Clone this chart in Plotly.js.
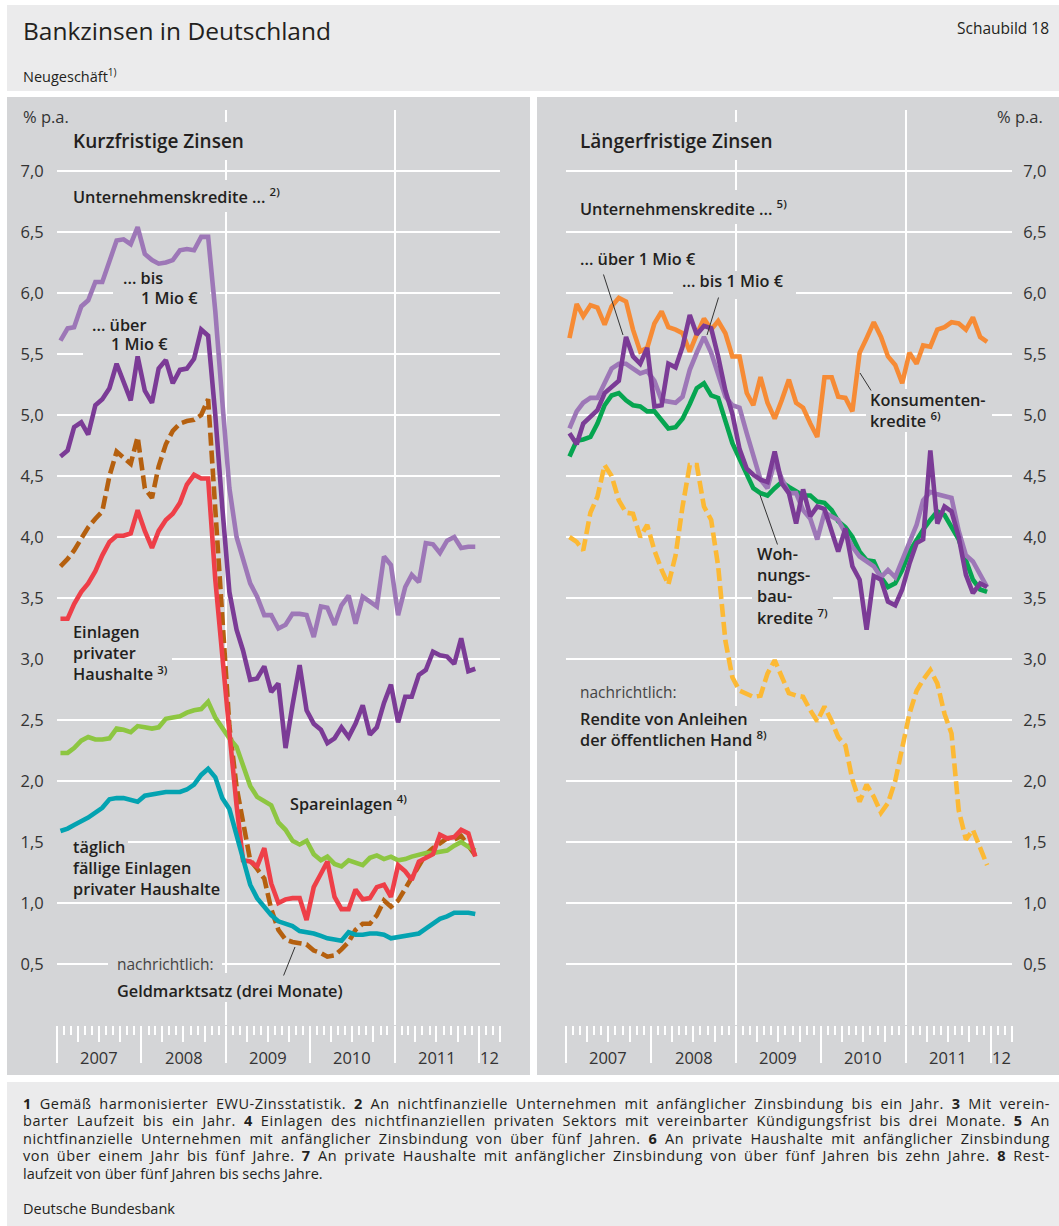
<!DOCTYPE html>
<html><head><meta charset="utf-8">
<script src="https://cdn.plot.ly/plotly-3.0.1.min.js"></script>
<style>html,body{margin:0;padding:0;background:#fff;} #chart{width:1059px;height:1226px;}</style>
</head><body><div id="chart"></div>
<script>
const W = 1059, H = 1226;

// monthly observation dates (Jan 2007 - Dec 2011), plotted mid-month
const months = [];
for (let y = 2007; y <= 2011; y++) for (let m = 1; m <= 12; m++) months.push(y + '-' + String(m).padStart(2, '0') + '-16');

const yTickVals = [0.5, 1, 1.5, 2, 2.5, 3, 3.5, 4, 4.5, 5, 5.5, 6, 6.5, 7];
const yTickText = ['0,5', '1,0', '1,5', '2,0', '2,5', '3,0', '3,5', '4,0', '4,5', '5,0', '5,5', '6,0', '6,5', '7,0'];
const yearLabels = ['2007', '2008', '2009', '2010', '2011', '12'];
const yearLabelDates = ['2007-07-02', '2008-07-02', '2009-07-02', '2010-07-02', '2011-07-02', '2012-02-16'];
const gridDates = ['2009-01-01', '2011-01-01'];
const xRange = ['2007-01-01', '2012-04-01'];

// ---- Kurzfristige Zinsen (left) ----
const kurzBis = [5.61,5.71,5.72,5.89,5.94,6.09,6.09,6.27,6.43,6.44,
  6.40,6.54,6.32,6.27,6.24,6.25,6.27,6.35,6.36,6.35,
  6.46,6.46,5.85,5.12,4.40,4.00,3.81,3.62,3.51,3.36,
  3.36,3.25,3.28,3.37,3.37,3.36,3.18,3.43,3.42,3.28,
  3.44,3.52,3.29,3.51,3.47,3.43,3.84,3.77,3.36,3.59,
  3.69,3.63,3.95,3.94,3.87,3.97,4.00,3.91,3.92,3.92];
const kurzUeber = [4.66,4.71,4.90,4.94,4.84,5.08,5.13,5.22,5.42,5.26,
  5.12,5.48,5.20,5.10,5.38,5.45,5.26,5.37,5.38,5.46,
  5.70,5.65,5.00,4.25,3.55,3.24,3.07,2.83,2.84,2.94,
  2.73,2.80,2.27,2.62,2.95,2.58,2.47,2.42,2.31,2.35,
  2.44,2.36,2.47,2.62,2.38,2.44,2.64,2.79,2.48,2.69,
  2.69,2.87,2.91,3.06,3.03,3.02,2.96,3.17,2.90,2.92];
const geldmarkt = [3.76,3.82,3.89,3.98,4.08,4.15,4.21,4.50,4.70,4.65,
  4.60,4.82,4.40,4.32,4.58,4.76,4.87,4.93,4.95,4.96,
  5.00,5.13,4.20,3.25,2.45,1.95,1.64,1.35,1.28,1.20,
  0.95,0.78,0.70,0.68,0.67,0.66,0.61,0.59,0.56,0.57,
  0.62,0.68,0.78,0.83,0.83,0.90,1.02,0.97,1.02,1.12,
  1.22,1.32,1.40,1.45,1.49,1.53,1.52,1.55,1.47,1.39];
const einlagen = [3.33,3.33,3.45,3.55,3.62,3.72,3.85,3.96,4.01,4.01,
  4.03,4.22,4.05,3.91,4.05,4.14,4.19,4.28,4.43,4.51,
  4.48,4.48,3.65,3.00,2.40,1.80,1.35,1.34,1.30,1.45,
  1.16,1.00,1.03,1.04,1.04,0.86,1.13,1.24,1.34,1.05,
  0.95,0.95,1.11,1.03,1.04,1.13,1.15,1.05,1.31,1.26,
  1.19,1.34,1.37,1.40,1.56,1.53,1.54,1.60,1.57,1.38];
const spareinlagen = [2.23,2.23,2.27,2.33,2.36,2.34,2.34,2.35,2.43,2.42,
  2.40,2.45,2.44,2.43,2.44,2.51,2.52,2.53,2.56,2.58,
  2.59,2.65,2.52,2.43,2.35,2.28,2.12,1.96,1.87,1.83,
  1.80,1.66,1.60,1.51,1.48,1.51,1.40,1.35,1.38,1.32,
  1.30,1.35,1.33,1.31,1.37,1.39,1.36,1.38,1.35,1.36,
  1.38,1.40,1.41,1.41,1.42,1.43,1.47,1.50,1.46,1.43];
const taeglich = [1.59,1.61,1.64,1.67,1.70,1.74,1.78,1.85,1.86,1.86,
  1.84,1.83,1.88,1.89,1.90,1.91,1.91,1.91,1.93,1.97,
  2.05,2.10,2.03,1.86,1.77,1.55,1.35,1.15,1.04,0.97,
  0.90,0.85,0.83,0.81,0.77,0.76,0.75,0.73,0.71,0.70,
  0.69,0.76,0.74,0.74,0.75,0.75,0.74,0.71,0.72,0.73,
  0.74,0.75,0.79,0.83,0.87,0.89,0.92,0.92,0.92,0.91];

// ---- Längerfristige Zinsen (right) ----
const langUeber = [4.85,4.76,4.93,4.99,5.04,5.18,5.23,5.28,5.64,5.48,
  5.42,5.55,5.07,5.08,5.42,5.39,5.56,5.82,5.66,5.73,
  5.71,5.48,5.20,5.01,4.72,4.56,4.51,4.47,4.45,4.70,
  4.44,4.36,4.11,4.39,4.17,4.25,4.23,4.06,3.88,4.07,
  3.76,3.65,3.24,3.68,3.65,3.47,3.44,3.57,3.78,3.95,
  3.98,4.71,4.11,4.25,4.21,4.00,3.69,3.54,3.62,3.59];
const langBis = [4.89,5.03,5.10,5.14,5.14,5.26,5.38,5.42,5.42,5.38,
  5.34,5.36,5.28,5.12,5.11,5.10,5.15,5.37,5.51,5.64,
  5.51,5.34,5.15,5.08,5.06,4.85,4.66,4.47,4.40,4.62,
  4.48,4.36,4.36,4.22,4.15,3.98,4.20,4.17,4.14,4.03,
  3.92,3.84,3.80,3.76,3.67,3.73,3.67,3.81,3.96,4.10,
  4.30,4.37,4.35,4.33,4.32,4.05,3.85,3.80,3.70,3.59];
const konsum = [5.63,5.91,5.81,5.90,5.88,5.74,5.89,5.96,5.93,5.70,
  5.52,5.55,5.75,5.85,5.72,5.70,5.67,5.52,5.66,5.79,
  5.70,5.77,5.67,5.48,5.48,5.18,5.08,5.31,5.10,4.97,
  5.12,5.29,5.10,5.06,4.93,4.82,5.31,5.31,5.15,5.14,
  5.03,5.51,5.63,5.76,5.64,5.48,5.41,5.26,5.51,5.42,
  5.57,5.56,5.70,5.72,5.76,5.75,5.70,5.80,5.64,5.60];
const wohnungsbau = [4.66,4.79,4.80,4.82,4.93,5.08,5.16,5.18,5.12,5.08,
  5.07,5.03,5.03,4.96,4.89,4.90,4.97,5.09,5.22,5.26,
  5.16,5.14,4.96,4.77,4.64,4.52,4.40,4.36,4.34,4.40,
  4.45,4.41,4.37,4.34,4.34,4.29,4.28,4.22,4.13,4.08,
  4.00,3.88,3.81,3.80,3.67,3.59,3.62,3.73,3.88,3.98,
  4.06,4.14,4.21,4.18,4.08,3.98,3.81,3.65,3.57,3.55];
const rendite = [4.00,3.96,3.89,4.20,4.33,4.59,4.50,4.30,4.20,4.19,
  4.00,4.10,3.89,3.73,3.61,3.85,4.25,4.59,4.59,4.25,
  4.14,3.76,3.15,2.85,2.74,2.71,2.69,2.70,2.88,2.99,
  2.86,2.72,2.70,2.69,2.58,2.49,2.61,2.49,2.36,2.29,
  2.01,1.83,1.97,1.87,1.74,1.82,2.00,2.25,2.55,2.74,
  2.83,2.91,2.80,2.55,2.39,1.76,1.52,1.60,1.45,1.31];

const C = {
  lila: '#9d77b7', violett: '#7b3b96', braun: '#b5600f', rot: '#ee3f48',
  hellgruen: '#8dc641', tuerkis: '#03a3b1', orange: '#f68b35', gruen: '#06a550', gelb: '#fcb934',
  panel: '#d4d5d7', frame: '#ebebec', text: '#231f20'
};
const F = '"Open Sans", "Noto Sans", sans-serif';

function line(y, color, xa, ya, dash) {
  return { x: months, y: y, xaxis: xa, yaxis: ya, type: 'scatter', mode: 'lines',
    line: { color: color, width: 4.6, dash: dash || 'solid' }, hoverinfo: 'skip', showlegend: false };
}
// empty helper traces so the overlaid ruler axes are drawn
function holder(xa, ya) {
  return { x: [months[0]], y: [null], xaxis: xa, yaxis: ya, type: 'scatter', mode: 'lines', hoverinfo: 'skip', showlegend: false };
}
const DASH = '13px,5px';
const traces = [
  holder('x2', 'y'), holder('x3', 'y'), holder('x4', 'y'),
  holder('x6', 'y2'), holder('x7', 'y2'), holder('x8', 'y2'),
  line(geldmarkt, C.braun, 'x', 'y', DASH),
  line(spareinlagen, C.hellgruen, 'x', 'y'),
  line(einlagen, C.rot, 'x', 'y'),
  line(taeglich, C.tuerkis, 'x', 'y'),
  line(kurzBis, C.lila, 'x', 'y'),
  line(kurzUeber, C.violett, 'x', 'y'),
  line(rendite, C.gelb, 'x5', 'y2', DASH),
  line(konsum, C.orange, 'x5', 'y2'),
  line(wohnungsbau, C.gruen, 'x5', 'y2'),
  line(langBis, C.lila, 'x5', 'y2'),
  line(langUeber, C.violett, 'x5', 'y2')
];

const domL = [57 / W, 500 / W], domR = [566 / W, 1012 / W];
const yDom = [1 - 1025 / H, 1 - 110 / H];

function gridAxis(domain, anchor) {
  return { type: 'date', range: xRange, domain: domain, anchor: anchor, tickmode: 'array', tickvals: gridDates,
    ticks: '', showticklabels: false, showgrid: true, gridcolor: '#ffffff', gridwidth: 2,
    zeroline: false, showline: false, fixedrange: true };
}
function tickAxis(domain, anchor, over, dtick, len) {
  return { type: 'date', range: xRange, domain: domain, anchor: anchor, overlaying: over,
    tickmode: 'linear', tick0: '2007-01-01', dtick: dtick, ticks: 'outside', ticklen: len, tickwidth: 2,
    tickcolor: '#ffffff', showticklabels: false, showgrid: false, zeroline: false, showline: false, fixedrange: true };
}
function yAxis(anchor, side, len) {
  return { domain: yDom, anchor: anchor, side: side, range: [0, 7.5], tickmode: 'array', tickvals: yTickVals,
    ticktext: yTickText, ticks: 'outside', ticklen: len, tickcolor: 'rgba(0,0,0,0)', showgrid: true,
    gridcolor: '#ffffff', gridwidth: 2, zeroline: false, showline: false, fixedrange: true,
    tickfont: { family: F, size: 16.5, color: '#333333' } };
}

function P(x) { return x / W; }
function Q(y) { return 1 - y / H; }
function txt(text, x, y, o) {
  o = o || {};
  const xa = o.xa || 'left';
  return { text: text, xref: 'paper', yref: 'paper', x: P(x), y: Q(y), xanchor: xa, yanchor: 'middle',
    showarrow: false, align: o.align || 'left',
    font: { family: F, size: o.size || 15, color: o.color || C.text, weight: o.weight || 400 },
    borderpad: 0, name: o.name || '' };
}
function pointer(hx, hy, ax, ay) {
  return { text: '', xref: 'paper', yref: 'paper', x: P(hx), y: Q(hy), ax: ax, ay: ay, showarrow: true,
    arrowhead: 0, arrowwidth: 1, arrowcolor: '#333333', standoff: 0, startstandoff: 0 };
}
// panel-coloured patches that interrupt the white grid behind the labels
function mask(x0, y0, x1, y1) {
  return { type: 'rect', xref: 'paper', yref: 'paper', x0: P(x0), x1: P(x1), y0: Q(y1), y1: Q(y0),
    fillcolor: C.panel, line: { width: 0 }, layer: 'above' };
}

const B = 600;
const S = 16.3;
const lab = { size: S, weight: B };
const footLines = [
  '<b>1</b> Gemäß harmonisierter EWU-Zinsstatistik. <b>2</b> An nichtfinanzielle Unternehmen mit anfänglicher Zinsbindung bis ein Jahr. <b>3</b> Mit verein-',
  'barter Laufzeit bis ein Jahr. <b>4</b> Einlagen des nichtfinanziellen privaten Sektors mit vereinbarter Kündigungsfrist bis drei Monate. <b>5</b> An',
  'nichtfinanzielle Unternehmen mit anfänglicher Zinsbindung von über fünf Jahren. <b>6</b> An private Haushalte mit anfänglicher Zinsbindung',
  'von über einem Jahr bis fünf Jahre. <b>7</b> An private Haushalte mit anfänglicher Zinsbindung von über fünf Jahren bis zehn Jahre. <b>8</b> Rest-',
  'laufzeit von über fünf Jahren bis sechs Jahre.'
];
const footY = [1103, 1120.5, 1138, 1155.5, 1173];

const annotations = [
  // header
  txt('Bankzinsen in Deutschland', 22, 31, { size: 24.5 }),
  txt('Schaubild 18', 1050, 28, { size: 15.5, xa: 'right' }),
  txt('Neugeschäft<sup>1)</sup>', 22, 76, { size: 14.5 }),
  // left panel
  txt('% p.a.', 22, 117, { size: 16.5, color: '#333333' }),
  txt('Kurzfristige Zinsen', 72, 141, { size: 19, weight: B }),
  txt('Unternehmenskredite ... <sup>2)</sup>', 72, 196, lab),
  txt('... bis', 122, 278, lab),
  txt('1 Mio €', 140, 298, lab),
  txt('... über', 91, 325, lab),
  txt('1 Mio €', 110, 344, lab),
  txt('Einlagen<br>privater<br>Haushalte <sup>3)</sup>', 72, 653, lab),
  txt('Spareinlagen <sup>4)</sup>', 289, 803, lab),
  txt('täglich<br>fällige Einlagen<br>privater Haushalte', 72, 868, lab),
  txt('nachrichtlich:', 116, 964, { size: 15.5, color: '#444444' }),
  txt('Geldmarktsatz (drei Monate)', 116, 991, lab),
  pointer(295, 947, -12, 30),
  // right panel
  txt('% p.a.', 1044, 117, { size: 16.5, color: '#333333', xa: 'right' }),
  txt('Längerfristige Zinsen', 579, 141, { size: 19, weight: B }),
  txt('Unternehmenskredite ... <sup>5)</sup>', 579, 208, lab),
  txt('... über 1 Mio €', 579, 259, lab),
  txt('... bis 1 Mio €', 681, 281, lab),
  pointer(623, 335, -20, -62),
  pointer(707, 335, 12, -39),
  txt('Konsumenten-<br>kredite <sup>6)</sup>', 869, 411, lab),
  pointer(860, 373, 12, 19),
  txt('Woh-<br>nungs-<br>bau-<br>kredite <sup>7)</sup>', 756, 586, lab),
  pointer(760, 495, 18, 51),
  txt('nachrichtlich:', 579, 692, { size: 15.5, color: '#444444' }),
  txt('Rendite von Anleihen<br>der öffentlichen Hand <sup>8)</sup>', 579, 730, lab),
  txt('Deutsche Bundesbank', 22, 1208, { size: 14.5 })
];
footLines.forEach(function (t, k) {
  annotations.push(txt(t, 22, footY[k], { size: 14.5, name: k < 4 ? 'justify' : 'plain' }));
});
// year labels under both rulers
yearLabels.forEach(function (l, k) {
  ['x', 'x5'].forEach(function (xa) {
    annotations.push({ text: l, xref: xa, yref: 'paper', x: yearLabelDates[k], y: Q(1057), xanchor: 'center',
      yanchor: 'middle', showarrow: false, font: { family: F, size: 16.5, color: '#333333' } });
  });
});

const shapes = [
  { type: 'rect', xref: 'paper', yref: 'paper', x0: P(7), x1: 1, y0: Q(91), y1: Q(5), fillcolor: C.frame, line: { width: 0 }, layer: 'below' },
  { type: 'rect', xref: 'paper', yref: 'paper', x0: P(7), x1: P(530), y0: Q(1075), y1: Q(97), fillcolor: C.panel, line: { width: 0 }, layer: 'below' },
  { type: 'rect', xref: 'paper', yref: 'paper', x0: P(537), x1: 1, y0: Q(1075), y1: Q(97), fillcolor: C.panel, line: { width: 0 }, layer: 'below' },
  { type: 'rect', xref: 'paper', yref: 'paper', x0: P(7), x1: 1, y0: 0, y1: Q(1082), fillcolor: C.frame, line: { width: 0 }, layer: 'below' },
  // grid interruptions behind labels (placed where no data line passes)
  mask(219, 122, 231, 160), mask(219, 180, 231, 212),
  mask(113, 287, 210, 299), mask(83, 352.8, 178, 355.2),
  mask(57, 653, 172, 665), mask(57, 836, 128, 848),
  mask(108, 958, 222, 970), mask(219, 973, 231, 1002), mask(386, 790, 400, 816),
  mask(730, 122, 742, 160), mask(730, 190, 742, 224),
  mask(673, 271, 796, 299), mask(866, 389, 992, 432),
  mask(752, 592, 833, 604), mask(566, 706, 760, 751)
];

const layout = {
  width: W, height: H, margin: { l: 0, r: 0, t: 0, b: 0 }, paper_bgcolor: '#ffffff', plot_bgcolor: C.panel,
  showlegend: false, hovermode: false, font: { family: F, color: C.text },
  xaxis: gridAxis(domL, 'y'),
  xaxis2: tickAxis(domL, 'y', 'x', 'M1', 9),
  xaxis3: tickAxis(domL, 'y', 'x', 'M3', 16),
  xaxis4: tickAxis(domL, 'y', 'x', 'M12', 37),
  xaxis5: gridAxis(domR, 'y2'),
  xaxis6: tickAxis(domR, 'y2', 'x5', 'M1', 9),
  xaxis7: tickAxis(domR, 'y2', 'x5', 'M3', 16),
  xaxis8: tickAxis(domR, 'y2', 'x5', 'M12', 37),
  yaxis: yAxis('x', 'left', 9),
  yaxis2: yAxis('x5', 'right', 7),
  shapes: shapes,
  annotations: annotations
};

Plotly.newPlot('chart', traces, layout, { staticPlot: true, displayModeBar: false }).then(function (gd) {
  // justify the first four footnote lines to the right edge, as in the printed original:
  // part of the missing width goes into letter spacing, the rest into word spacing
  gd.querySelectorAll('.annotation').forEach(function (g) {
    const ann = gd.layout.annotations[+g.getAttribute('data-index')];
    if (!ann || ann.name !== 'justify') return;
    const t = g.querySelector('text.annotation-text');
    if (!t) return;
    const r = t.getBoundingClientRect();
    const n = t.textContent.length;
    const extra = 1050 - r.right;
    if (extra <= 0) return;
    t.style.letterSpacing = (0.55 * extra / n) + 'px';
    let r2 = t.getBoundingClientRect();
    const spaces = (t.textContent.match(/ /g) || []).length;
    const rest = (1050 - r.left) - r2.width;
    if (spaces > 0 && rest > 0) t.style.wordSpacing = (rest / spaces) + 'px';
    r2 = t.getBoundingClientRect();
    const dx = r.left - r2.left;
    if (Math.abs(dx) > 0.5) {
      const tr = t.getAttribute('transform') || '';
      t.setAttribute('transform', tr + ' translate(' + dx + ',0)');
    }
  });
});
</script>
</body></html>
